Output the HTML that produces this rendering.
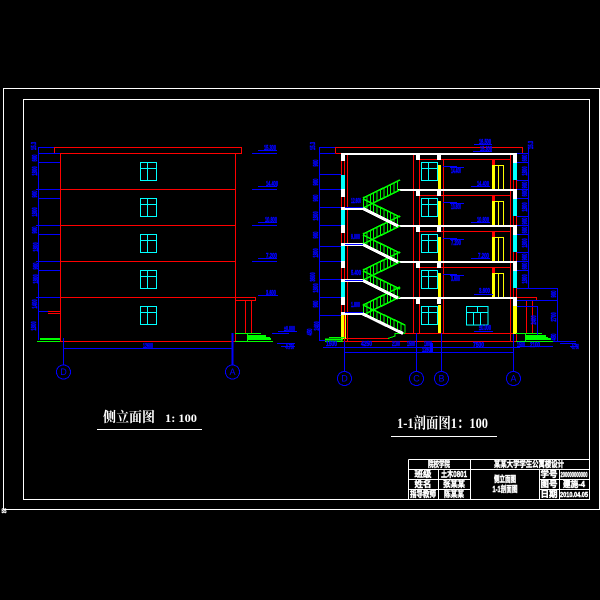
<!DOCTYPE html>
<html><head><meta charset="utf-8"><style>
html,body{margin:0;padding:0;background:#000;width:600px;height:600px;overflow:hidden}
svg{display:block}
text{font-family:"Liberation Sans","Noto Sans CJK SC",sans-serif}
.b text,.r text{fill:#00f;font-size:7px;font-weight:bold;stroke:#00f;stroke-width:.5}
.r text{text-anchor:middle;dominant-baseline:central}
.t text{fill:#fff;font-size:8.5px;font-weight:bold;text-anchor:middle;stroke:#fff;stroke-width:.45}
.h text{fill:#fff;font-family:"Liberation Serif","Noto Serif CJK SC",serif;font-weight:bold}
</style></head><body>
<svg width="600" height="600" viewBox="0 0 600 600" shape-rendering="crispEdges" fill="none">
<defs>
<g id="w" stroke="#0ff"><path d="M140.5 162.5H156.5V180.5H140.5ZM140.5 168.5H156.5M147.5 162.5V180.5"/></g>
<g id="up" stroke="#0f0"><path stroke-width="1.6" d="M363 198L400 180M363 208L400 190"/><path d="M363.5 198v10m3.4-11.65v10m3.4-11.65v10m3.4-11.65v10m3.4-11.65v10m3.4-11.65v10m3.4-11.65v10m3.4-11.65v10m3.4-11.65v10m3.4-11.65v10m3.4-11.65v10"/></g>
<g id="dn"><path stroke="#0f0" stroke-width="1.6" d="M363 199L400 217"/><path stroke="#0f0" d="M363.5 199v9m3.4-7.35v9m3.4-7.35v9m3.4-7.35v9m3.4-7.35v9m3.4-7.35v9m3.4-7.35v9m3.4-7.35v9m3.4-7.35v9m3.4-7.35v9m3.4-7.35v9"/><path stroke="#fff" stroke-width="3" d="M363 208.5L398 226"/></g>
<g id="fl">
<path stroke="#f00" d="M419 159.5H437M441 159.5H510"/>
<rect x="492" y="159" width="3" height="6" fill="#f00"/>
<rect x="416" y="155" width="4" height="5" fill="#fff"/>
<rect x="437" y="155" width="4" height="5" fill="#fff"/>
<rect x="513" y="155" width="4" height="8" fill="#fff"/>
<rect x="513" y="163" width="4" height="17" fill="#0ff"/>
<rect x="438" y="165" width="3" height="24" fill="#ff0"/>
<rect x="492" y="165" width="3" height="24" fill="#ff0"/>
<path stroke="#ff0" d="M495 165.5H504M498.5 165V189M503.5 165V189"/>
<use href="#w" x="281"/>
<path stroke="#00f" d="M443 166.5H457M450 167.5H464"/>
</g>
<g id="c"><circle r="7" stroke="#00f"/></g>
</defs>
<rect width="600" height="600" fill="#000"/>

<!-- frames -->
<path stroke="#fff" d="M3.5 88.5H599.5V509.5H3.5ZM23.5 99.5H589.5V499.5H23.5Z"/>
<g class="t"><text x="4" y="513" style="font-size:6.5px" textLength="5" lengthAdjust="spacingAndGlyphs">SS</text></g>

<!-- LEFT ELEVATION -->
<path stroke="#f00" d="M54.5 153.5V147.5H241.5V153.5H54.5M60.5 153V341M235.5 153V341M60 189.5H235M60 225.5H235M60 261.5H235M60 297.5H235M38 341.5H273M48 311.5H60M48 313.5H60M235 297.5H255.5V300.5H235M245.5 300V334M251.5 300V334"/>
<rect x="60" y="153" width="1" height="188" fill="#f00"/>
<use href="#w"/><use href="#w" y="36"/><use href="#w" y="72"/><use href="#w" y="108"/><use href="#w" y="144"/>
<path stroke="#0f0" d="M235 333.5H261M247.5 334V341M235 341.5H273"/>
<path stroke="#0f0" stroke-width="2" d="M40 339H60M247 336H266M247 339H271"/>
<path stroke="#0f0" d="M37 341.5H60M247 337.5H270"/>
<path stroke="#00f" d="M38.5 147V340M38 147.5H54M38 153.5H60M38 162.5H60M36 189.5H60M38 198.5H60M36 225.5H60M38 234.5H60M36 261.5H60M38 270.5H60M36 297.5H60M38 311.5H48M63.5 338V365M63 348.5H233M258 150.5H277M252 153.5H277M258 186.5H277M252 189.5H277M258 222.5H277M252 225.5H277M258 258.5H277M252 261.5H277M258 295.5H278M278 331.5H297M272 333.5H289M277 343.5H295M281 346.5H295"/>
<path stroke="#00f" stroke-width="2" d="M232.5 333V365"/>
<use href="#c" x="63.5" y="372"/><use href="#c" x="232.5" y="372"/>
<g class="r">
<text transform="translate(35 146) rotate(-90) scale(.6 1)">15.3</text>
<text transform="translate(36 158) rotate(-90) scale(.6 1)">600</text>
<text transform="translate(36 171) rotate(-90) scale(.6 1)">1800</text>
<text transform="translate(36 194) rotate(-90) scale(.6 1)">900</text>
<text transform="translate(36 212) rotate(-90) scale(.6 1)">1800</text>
<text transform="translate(36 230) rotate(-90) scale(.6 1)">900</text>
<text transform="translate(37 247) rotate(-90) scale(.6 1)">1800</text>
<text transform="translate(37 266) rotate(-90) scale(.6 1)">900</text>
<text transform="translate(37 279) rotate(-90) scale(.6 1)">1800</text>
<text transform="translate(36 304) rotate(-90) scale(.6 1)">1400</text>
<text transform="translate(35 326) rotate(-90) scale(.6 1)">1800</text>
<text x="63.5" y="372" style="font-size:9px;font-weight:normal;stroke-width:0">D</text>
<text x="232.5" y="372" style="font-size:9px;font-weight:normal;stroke-width:0">A</text>
</g>
<g class="b">
<text x="264" y="150" textLength="12" lengthAdjust="spacingAndGlyphs">15.300</text>
<text x="266" y="186" textLength="12" lengthAdjust="spacingAndGlyphs">14.400</text>
<text x="265" y="222" textLength="12" lengthAdjust="spacingAndGlyphs">10.800</text>
<text x="266" y="258" textLength="11" lengthAdjust="spacingAndGlyphs">7.200</text>
<text x="266" y="295" textLength="10" lengthAdjust="spacingAndGlyphs">3.600</text>
<text x="284" y="331" textLength="11" lengthAdjust="spacingAndGlyphs">±0.000</text>
<text x="285" y="349" textLength="9" lengthAdjust="spacingAndGlyphs">-0.750</text>
<text x="143" y="348" textLength="10" lengthAdjust="spacingAndGlyphs">12600</text>
</g>

<!-- SECTION -->
<path stroke="#f00" d="M335.5 153.5V147.5H522.5V153.5H335.5M341.5 153V341M344.5 160V341M347.5 153V341M413.5 153V333M419.5 159V333M443.5 159V333M510.5 153V341M513.5 153V341M516.5 153V341M341 341.5H517M341 338.5H388M399 333.5H513M516 297.5H536.5V300.5H516M526.5 300V334M532.5 300V334"/>
<use href="#fl"/><use href="#fl" y="36"/><use href="#fl" y="72"/><use href="#fl" y="108"/>
<!-- ground floor -->
<rect x="416" y="299" width="4" height="5" fill="#fff"/>
<rect x="437" y="299" width="4" height="5" fill="#fff"/>
<rect x="513" y="299" width="4" height="7" fill="#fff"/>
<rect x="438" y="305" width="3" height="28" fill="#ff0"/>
<rect x="513" y="306" width="3" height="28" fill="#ff0"/>
<rect x="341" y="315" width="3" height="24" fill="#ff0"/>
<path stroke="#ff0" d="M345.5 315V339M516.5 306V334"/>
<use href="#w" x="281" y="144"/>
<path stroke="#0ff" d="M466.5 306.5H488V325H466.5ZM466.5 312.5H488M477.5 306.5V312.5M473.5 312.5V325M480.5 312.5V325"/>
<!-- slabs -->
<g fill="#fff">
<rect x="341" y="153" width="176" height="2"/>
<rect x="398" y="189" width="119" height="2"/>
<rect x="398" y="225" width="119" height="2"/>
<rect x="398" y="261" width="119" height="2"/>
<rect x="398" y="297" width="119" height="2"/>
<rect x="341" y="155" width="4" height="6"/>
<rect x="341" y="189" width="4" height="8"/>
<rect x="341" y="225" width="4" height="8"/>
<rect x="341" y="261" width="4" height="7"/>
<rect x="341" y="297" width="4" height="8"/>
<rect x="341" y="207" width="22" height="3"/>
<rect x="341" y="243" width="22" height="3"/>
<rect x="341" y="279" width="22" height="3"/>
<rect x="341" y="312" width="22" height="3"/>
</g>
<g fill="#0ff">
<rect x="341" y="175" width="4" height="14"/>
<rect x="341" y="210" width="4" height="15"/>
<rect x="341" y="246" width="4" height="15"/>
<rect x="341" y="282" width="4" height="15"/>
</g>
<!-- stairs -->
<use href="#up"/><use href="#up" y="36"/><use href="#up" y="72"/><use href="#up" y="107"/>
<use href="#dn"/><use href="#dn" y="36"/><use href="#dn" y="72"/>
<path stroke="#0f0" stroke-width="1.6" d="M363 305L405 325"/>
<path stroke="#0f0" d="M363.5 305v8m3.4-6.35v8m3.4-6.35v8m3.4-6.35v8m3.4-6.35v8m3.4-6.35v8m3.4-6.35v8m3.4-6.35v8m3.4-6.35v8m3.4-6.35v8m3.4-6.35v8m3.4-6.35v8M405 325v8M388 338.5L395 336V333.5H405"/>
<path stroke="#fff" stroke-width="3" d="M362 313.5L403 333.5"/>
<!-- green section -->
<path stroke="#0f0" d="M329 337.5H345M325 341.5H343M516 333.5H542M525.5 334V341M516 341.5H553M525 337.5H548"/>
<path stroke="#0f0" stroke-width="2" d="M325 339.5H343M525 336H546M525 339H551"/>
<!-- blue section -->
<path stroke="#00f" d="M319.5 147V340M319 147.5H335M319 153.5H335M319 174.5H341M319 189.5H341M319 207.5H341M319 225.5H341M319 246.5H341M319 261.5H341M319 279.5H341M319 297.5H341M319 315.5H341M319 340.5H325M345 207.5H363M345 244.5H363M345 280.5H363M345 312.5H363M474 144.5H492M473 151.5H492M471 186.5H490M471 222.5H490M471 258.5H490M474 294.5H493M474 331.5H493M528.5 147V288M517 153.5H528M517 162.5H528M517 180.5H528M517 189.5H528M517 198.5H528M517 216.5H528M517 225.5H528M517 234.5H528M517 252.5H528M517 261.5H528M517 270.5H528M517 288.5H558M557.5 288V341M517 300.5H557M517 306.5H538M537.5 306V335M323 347.5H520M344 352.5H513M517 346.5H553M344.5 341V371M416.5 333V371M441.5 333V371M513.5 334V371M553 341.5H576M560 343.5H576M570 346.5H578"/>
<rect x="430" y="343" width="3" height="9" fill="#00f"/>
<use href="#c" x="344.5" y="378.5"/><use href="#c" x="416.5" y="378.5"/><use href="#c" x="441.5" y="378.5"/><use href="#c" x="513.5" y="378.5"/>
<g class="r">
<text transform="translate(314 146) rotate(-90) scale(.6 1)">15.3</text>
<text transform="translate(317 163) rotate(-90) scale(.6 1)">900</text>
<text transform="translate(317 182) rotate(-90) scale(.6 1)">900</text>
<text transform="translate(317 198) rotate(-90) scale(.6 1)">900</text>
<text transform="translate(317 216) rotate(-90) scale(.6 1)">1800</text>
<text transform="translate(317 235) rotate(-90) scale(.6 1)">900</text>
<text transform="translate(317 253) rotate(-90) scale(.6 1)">1800</text>
<text transform="translate(314 277) rotate(-90) scale(.6 1)">3600</text>
<text transform="translate(317 288) rotate(-90) scale(.6 1)">1800</text>
<text transform="translate(317 304) rotate(-90) scale(.6 1)">900</text>
<text transform="translate(318 326) rotate(-90) scale(.6 1)">2400</text>
<text transform="translate(311 332) rotate(-90) scale(.6 1)">450</text>
<text transform="translate(532 145) rotate(-90) scale(.6 1)">15.3</text>
<text transform="translate(526 158) rotate(-90) scale(.6 1)">600</text>
<text transform="translate(526 171) rotate(-90) scale(.6 1)">1800</text>
<text transform="translate(526 185) rotate(-90) scale(.6 1)">900</text>
<text transform="translate(526 193) rotate(-90) scale(.6 1)">600</text>
<text transform="translate(526 207) rotate(-90) scale(.6 1)">1800</text>
<text transform="translate(526 221) rotate(-90) scale(.6 1)">900</text>
<text transform="translate(526 230) rotate(-90) scale(.6 1)">600</text>
<text transform="translate(526 243) rotate(-90) scale(.6 1)">1800</text>
<text transform="translate(526 257) rotate(-90) scale(.6 1)">900</text>
<text transform="translate(526 266) rotate(-90) scale(.6 1)">600</text>
<text transform="translate(526 279) rotate(-90) scale(.6 1)">1800</text>
<text transform="translate(555 294) rotate(-90) scale(.6 1)">900</text>
<text transform="translate(555 317) rotate(-90) scale(.6 1)">2700</text>
<text transform="translate(555 337) rotate(-90) scale(.6 1)">450</text>
<text transform="translate(535 320) rotate(-90) scale(.6 1)">2400</text>
<text x="344.5" y="378.5" style="font-size:9px;font-weight:normal;stroke-width:0">D</text>
<text x="416.5" y="378.5" style="font-size:9px;font-weight:normal;stroke-width:0">C</text>
<text x="441.5" y="378.5" style="font-size:9px;font-weight:normal;stroke-width:0">B</text>
<text x="513.5" y="378.5" style="font-size:9px;font-weight:normal;stroke-width:0">A</text>
</g>
<g class="b">
<text x="479" y="144" textLength="12" lengthAdjust="spacingAndGlyphs">16.500</text>
<text x="480" y="151" textLength="12" lengthAdjust="spacingAndGlyphs">15.300</text>
<text x="451" y="173" textLength="10" lengthAdjust="spacingAndGlyphs">14.400</text>
<text x="477" y="186" textLength="12" lengthAdjust="spacingAndGlyphs">14.400</text>
<text x="451" y="209" textLength="10" lengthAdjust="spacingAndGlyphs">10.800</text>
<text x="477" y="222" textLength="12" lengthAdjust="spacingAndGlyphs">10.800</text>
<text x="451" y="245" textLength="10" lengthAdjust="spacingAndGlyphs">7.200</text>
<text x="478" y="258" textLength="11" lengthAdjust="spacingAndGlyphs">7.200</text>
<text x="451" y="281" textLength="9" lengthAdjust="spacingAndGlyphs">3.600</text>
<text x="479" y="293" textLength="11" lengthAdjust="spacingAndGlyphs">3.600</text>
<text x="479" y="330" textLength="12" lengthAdjust="spacingAndGlyphs">±0.000</text>
<text x="351" y="203" textLength="10" lengthAdjust="spacingAndGlyphs">12.600</text>
<text x="351" y="239" textLength="9" lengthAdjust="spacingAndGlyphs">9.000</text>
<text x="351" y="275" textLength="10" lengthAdjust="spacingAndGlyphs">5.400</text>
<text x="351" y="307" textLength="9" lengthAdjust="spacingAndGlyphs">1.800</text>
<text x="326" y="346" textLength="11" lengthAdjust="spacingAndGlyphs">1500</text>
<text x="361" y="346" textLength="11" lengthAdjust="spacingAndGlyphs">4250</text>
<text x="392" y="346" textLength="8" lengthAdjust="spacingAndGlyphs">2100</text>
<text x="407" y="346" textLength="8" lengthAdjust="spacingAndGlyphs">1500</text>
<text x="424" y="346" textLength="8" lengthAdjust="spacingAndGlyphs">1800</text>
<text x="422" y="352" textLength="11" lengthAdjust="spacingAndGlyphs">12600</text>
<text x="473" y="347" textLength="11" lengthAdjust="spacingAndGlyphs">7500</text>
<text x="517" y="347" textLength="8" lengthAdjust="spacingAndGlyphs">1500</text>
<text x="530" y="347" textLength="10" lengthAdjust="spacingAndGlyphs">2100</text>
<text x="571" y="349" textLength="8" lengthAdjust="spacingAndGlyphs">-0.750</text>
</g>

<!-- Titles -->
<g class="h">
<text x="103" y="422" font-size="14" textLength="52" lengthAdjust="spacingAndGlyphs">侧立面图</text>
<text x="165" y="422" font-size="12" textLength="32" lengthAdjust="spacingAndGlyphs" font-weight="normal">1: 100</text>
<text x="397" y="428" font-size="15" textLength="91" lengthAdjust="spacingAndGlyphs">1-1剖面图1：100</text>
</g>
<path stroke="#fff" d="M97 429.5H202M391 436.5H497"/>

<!-- Title block -->
<path stroke="#fff" d="M408.5 459.5H589M408.5 459.5V499M408 469.5H589M408 479.5H470M408 489.5H470M539 479.5H589M539 489.5H589M470.5 459V499M438.5 469V499M539.5 469V499M559.5 469V499"/>
<g class="t">
<text x="439" y="467" textLength="22" lengthAdjust="spacingAndGlyphs">院校学院</text>
<text x="529" y="467" textLength="70" lengthAdjust="spacingAndGlyphs">某某大学学生公寓楼设计</text>
<text x="423" y="477" textLength="17" lengthAdjust="spacingAndGlyphs">班级</text>
<text x="454" y="477" textLength="26" lengthAdjust="spacingAndGlyphs">土木0801</text>
<text x="423" y="487" textLength="17" lengthAdjust="spacingAndGlyphs">姓名</text>
<text x="454" y="487" textLength="22" lengthAdjust="spacingAndGlyphs">张某某</text>
<text x="423" y="497" textLength="26" lengthAdjust="spacingAndGlyphs">指导教师</text>
<text x="454" y="497" textLength="20" lengthAdjust="spacingAndGlyphs">陈某某</text>
<text x="505" y="482" textLength="22" lengthAdjust="spacingAndGlyphs">侧立面图</text>
<text x="505" y="492" textLength="25" lengthAdjust="spacingAndGlyphs">1-1剖面图</text>
<text x="549" y="477" textLength="17" lengthAdjust="spacingAndGlyphs">学号</text>
<text x="549" y="487" textLength="17" lengthAdjust="spacingAndGlyphs">图号</text>
<text x="549" y="497" textLength="17" lengthAdjust="spacingAndGlyphs">日期</text>
<text x="574" y="477" textLength="27" lengthAdjust="spacingAndGlyphs" style="font-size:7px">200000000000</text>
<text x="574" y="487" textLength="22" lengthAdjust="spacingAndGlyphs">建施-4</text>
<text x="574" y="497" textLength="28" lengthAdjust="spacingAndGlyphs" style="font-size:7px">2010.04.05</text>
</g>
</svg>
</body></html>
